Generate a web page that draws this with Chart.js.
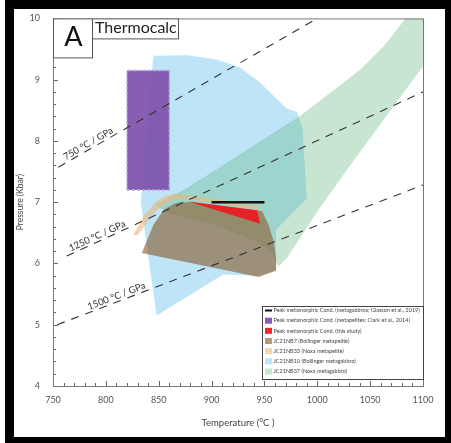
<!DOCTYPE html>
<html>
<head>
<meta charset="utf-8">
<script src="https://cdn.jsdelivr.net/npm/chart.js@4.4.1/dist/chart.umd.min.js"></script>
<style>
  html, body { margin: 0; padding: 0; background: #fff; }
  #wrap { position: relative; width: 451px; height: 443px; }
  #frame { position: absolute; left: 5px; top: 0; width: 446px; height: 443px; box-sizing: border-box;
           border: solid #000; border-width: 9px 6px 6px 9px; pointer-events: none; }
</style>
</head>
<body>
<div id="wrap">
  <canvas id="pt_chart"></canvas>
  <div id="frame"></div>
</div>
<script>
var xTicks = [750, 800, 850, 900, 950, 1000, 1050, 1100];
var yTicks = [4, 5, 6, 7, 8, 9, 10];

var peakGabbro = [[900, 7.0], [950, 7.0]];
var peakPelite = [[820, 7.2], [860, 7.2], [860, 9.15], [820, 9.15], [820, 7.2]];
var peakThisStudy = [[878, 7.01], [943, 6.87], [946, 6.65]];
var nb7 = [[834, 6.17], [839, 6.38], [845, 6.63], [855, 6.88], [864, 6.97], [870, 7.0], [880, 7.0],
           [943, 6.87], [948, 6.85], [954, 6.63], [958.7, 6.36], [961, 6.09], [961, 5.88], [944.5, 5.78]];
var nb33 = [[826, 6.47], [831, 6.62], [836, 6.79], [848, 7.01], [857, 7.11], [866, 7.14], [880, 7.11],
            [900, 7.06], [946, 6.93], [946, 6.87], [900, 7.0], [880, 7.04], [867, 7.05], [858, 6.99],
            [849, 6.88], [841, 6.72], [834, 6.55], [830, 6.46]];
var nb10 = [[845, 9.39], [877, 9.40], [905, 9.33], [927, 9.20], [946, 8.95], [962, 8.68], [971, 8.53],
            [981, 8.47], [986, 8.20], [990, 7.06], [961, 6.55], [961, 5.9], [945, 5.8], [911, 5.82],
            [848, 5.15], [833, 7.0]];
var nb37 = [[1083.5, 10.0], [1100, 10.0], [1100, 9.22], [1060, 8.28], [1031, 7.6], [1000, 6.85],
            [971, 6.08], [963, 5.95], [956, 6.2], [943, 6.36], [902, 6.63], [863, 6.80], [846, 6.95],
            [851, 7.0], [877, 7.23], [984, 8.41], [1009, 8.74], [1041, 9.17], [1063, 9.55]];

var geo750 = [[755, 7.57], [1000, 10.0]];
var geo1250 = [[763, 6.12], [1100, 8.80]];
var geo1500 = [[754, 5.0], [1100, 7.28]];
var geoLabels = ['750 °C / GPa', '1250 °C / GPa', '1500 °C / GPa'];
var geoLabelT = [786, 794, 812];

var legendLabels = [
  'Peak metamorphic Cond. (metagabbros; Glasson et al., 2019)',
  'Peak metamorphic Cond. (metapelites; Clark et al., 2014)',
  'Peak metamorphic Cond. (this study)',
  'JC21NB7 (Bollinger metapelite)',
  'JC21NB33 (Noxa metapelite)',
  'JC21NB10 (Bollinger metagabbro)',
  'JC21NB37 (Noxa metagabbro)'
];

function pts(arr) {
  return arr.map(function (p) { return {x: p[0], y: p[1]}; });
}

function area(data, color) {
  return {data: pts(data), fill: 'shape', backgroundColor: color, borderWidth: 0, pointRadius: 0, tension: 0};
}

function geo(data) {
  return {data: pts(data), fill: false, borderColor: '#333', borderWidth: 1.1, borderDash: [8, 7], pointRadius: 0};
}

var purple = area(peakPelite, 'rgba(125,80,170,0.92)');
purple.borderWidth = 1.5;
purple.borderColor = '#bca5d8';
purple.borderDash = [3, 2];

// first dataset is drawn on top
var datasets = [
  geo(geo750), geo(geo1250), geo(geo1500),
  {data: pts(peakGabbro), fill: false, borderColor: '#111', borderWidth: 2.5, pointRadius: 0},
  area(peakThisStudy, 'rgba(237,28,36,0.95)'),
  area(nb33, 'rgba(235,185,120,0.6)'),
  area(nb7, 'rgba(140,100,55,0.65)'),
  purple,
  area(nb37, 'rgba(90,180,120,0.34)'),
  area(nb10, 'rgba(110,195,240,0.45)')
];
// legend rows -> dataset index
var legendSets = [3, 7, 4, 6, 5, 9, 8];

var extras = {
  id: 'extras',
  afterDraw: function (chart) {
    var ctx = chart.ctx, a = chart.chartArea, sx = chart.scales.x, sy = chart.scales.y;
    ctx.save();

    // geotherm labels
    var lines = [geo750, geo1250, geo1500];
    ctx.fillStyle = '#333';
    ctx.font = '9.5px Lato';
    ctx.textAlign = 'center';
    ctx.textBaseline = 'alphabetic';
    lines.forEach(function (l, i) {
      var x0 = sx.getPixelForValue(l[0][0]), y0 = sy.getPixelForValue(l[0][1]);
      var x1 = sx.getPixelForValue(l[1][0]), y1 = sy.getPixelForValue(l[1][1]);
      var t = geoLabelT[i];
      var p = l[0][1] + (t - l[0][0]) * (l[1][1] - l[0][1]) / (l[1][0] - l[0][0]);
      ctx.save();
      ctx.translate(sx.getPixelForValue(t), sy.getPixelForValue(p));
      ctx.rotate(Math.atan2(y1 - y0, x1 - x0));
      ctx.fillText(geoLabels[i], 0, -2.5);
      ctx.restore();
    });

    // inward ticks
    ctx.strokeStyle = '#666';
    ctx.lineWidth = 1;
    ctx.beginPath();
    for (var v = 750; v <= 1100; v += 10) {
      var px = Math.round(sx.getPixelForValue(v)) + 0.5;
      var len = (v % 50 === 0) ? 5 : 3;
      ctx.moveTo(px, a.bottom);
      ctx.lineTo(px, a.bottom - len);
    }
    for (var k = 0; k <= 30; k++) {
      var py = Math.round(sy.getPixelForValue(4 + k * 0.2)) + 0.5;
      var ln = (k % 5 === 0) ? 5 : 3;
      ctx.moveTo(a.left, py);
      ctx.lineTo(a.left + ln, py);
    }
    ctx.stroke();

    // plot frame
    ctx.strokeStyle = '#777';
    ctx.strokeRect(a.left + 0.5, a.top + 0.5, a.right - a.left, a.bottom - a.top);

    // panel letter + method box
    ctx.fillStyle = '#fff';
    ctx.strokeStyle = '#555';
    ctx.fillRect(a.left, a.top, 39, 39);
    ctx.strokeRect(a.left + 0.5, a.top + 0.5, 39, 39);
    ctx.fillRect(a.left + 39, a.top, 86, 20);
    ctx.strokeRect(a.left + 39.5, a.top + 0.5, 86, 20);
    ctx.fillStyle = '#111';
    ctx.textAlign = 'center';
    ctx.font = '27px Lato';
    ctx.fillText('A', a.left + 20.5, a.top + 28);
    ctx.textAlign = 'left';
    ctx.fillStyle = '#222';
    ctx.font = '16px Lato';
    ctx.fillText('Thermocalc', a.left + 42, a.top + 14.5);

    // legend
    var lx = a.right - 161, ly = a.bottom - 80;
    ctx.fillStyle = '#fff';
    ctx.fillRect(lx, ly, 161, 73);
    ctx.strokeStyle = '#444';
    ctx.strokeRect(lx + 0.5, ly + 0.5, 161, 73);
    ctx.font = '5.5px Lato';
    ctx.textBaseline = 'middle';
    legendLabels.forEach(function (txt, i) {
      var ds = datasets[legendSets[i]];
      var cy = ly + 4.5 + i * 10.17;
      if (i === 0) {
        ctx.fillStyle = '#111';
        ctx.fillRect(lx + 3, cy - 1, 7, 2);
      } else {
        ctx.fillStyle = ds.backgroundColor;
        ctx.fillRect(lx + 3, cy - 3, 7, 6);
      }
      ctx.fillStyle = '#444';
      ctx.fillText(txt, lx + 11.5, cy);
    });
    ctx.restore();
  }
};

var tickFont = {family: 'Lato', size: 9};

new Chart(document.getElementById('pt_chart'), {
  type: 'line',
  data: {datasets: datasets},
  options: {
    responsive: true,
    maintainAspectRatio: false,
    animation: false,
    events: [],
    layout: {padding: {top: 15, right: 28, left: 0, bottom: 0}},
    plugins: {legend: {display: false}, tooltip: {enabled: false}},
    scales: {
      x: {
        type: 'linear', min: 750, max: 1100,
        afterBuildTicks: function (s) { s.ticks = xTicks.map(function (v) { return {value: v}; }); },
        afterFit: function (s) { s.height = 57; },
        grid: {display: false, drawTicks: false, tickLength: 0},
        border: {display: false},
        ticks: {color: '#555', font: tickFont, padding: 9, maxRotation: 0, autoSkip: false,
                callback: function (v) { return String(v); }},
        title: {display: true, text: 'Temperature (°C )', color: '#444', font: {family: 'Lato', size: 9.5}, padding: {top: 0, bottom: 14}}
      },
      y: {
        type: 'linear', min: 4, max: 10,
        afterBuildTicks: function (s) { s.ticks = yTicks.map(function (v) { return {value: v}; }); },
        afterFit: function (s) { s.width = 53; },
        grid: {display: false, drawTicks: false, tickLength: 0},
        border: {display: false},
        ticks: {color: '#555', font: tickFont, padding: 13, autoSkip: false,
                callback: function (v) { return String(v); }},
        title: {display: true, text: 'Pressure (Kbar)', color: '#444', font: {family: 'Lato', size: 8.5}, padding: {top: 15, bottom: 0}}
      }
    }
  },
  plugins: [extras]
});
</script>
</body>
</html>
